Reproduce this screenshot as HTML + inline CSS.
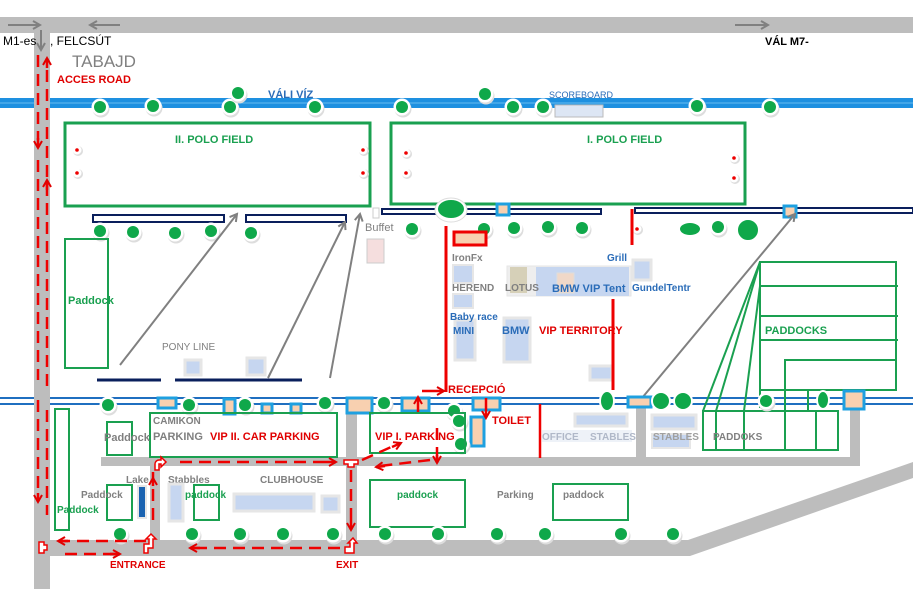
<!DOCTYPE html>
<html><head><meta charset="utf-8"><style>
html,body{margin:0;padding:0;background:#fff;}
svg{display:block;font-family:"Liberation Sans",sans-serif;}
.g{fill:#808080;font-weight:bold;}
.r{fill:#e00000;font-weight:bold;}
.gr{fill:#1aa050;font-weight:bold;}
.b{fill:#2a6cb8;font-weight:bold;}
</style></head><body>
<svg width="913" height="589" viewBox="0 0 913 589" xmlns="http://www.w3.org/2000/svg">
<defs>
<marker id="ga" markerUnits="userSpaceOnUse" markerWidth="10" markerHeight="10" refX="8" refY="5" orient="auto"><path d="M1,1 L8,5 L1,9" fill="none" stroke="#808080" stroke-width="2"/></marker>
<marker id="ra" markerUnits="userSpaceOnUse" markerWidth="10" markerHeight="10" refX="8" refY="5" orient="auto"><path d="M1,1 L8,5 L1,9" fill="none" stroke="#e00000" stroke-width="2"/></marker>
<g id="t"><circle cx="1" cy="2" r="8.5" fill="#ddd"/><circle cx="0" cy="0" r="8.5" fill="#fff"/><circle cx="0" cy="0" r="6" fill="#0fa84a"/></g>
<g id="d"><circle cx="1" cy="1" r="5" fill="#ddd"/><circle cx="0" cy="0" r="4.5" fill="#fff"/><circle cx="0" cy="0" r="1.8" fill="#e00"/></g>
</defs>
<!-- roads -->
<rect x="0" y="17" width="913" height="16" fill="#bdbdbd"/>
<rect x="34" y="33" width="16" height="556" fill="#bdbdbd"/>
<rect x="101" y="457" width="759" height="9" fill="#bdbdbd"/>
<rect x="150" y="457" width="10" height="90" fill="#bdbdbd"/>
<rect x="346" y="403" width="11" height="150" fill="#bdbdbd"/>
<rect x="636" y="403" width="10" height="60" fill="#bdbdbd"/>
<rect x="850" y="392" width="10" height="72" fill="#bdbdbd"/>
<rect x="50" y="540" width="640" height="16" fill="#bdbdbd"/>
<polygon points="688,540 913,462 913,478 690,556" fill="#bdbdbd"/>
<line x1="8" y1="25" x2="40" y2="25" stroke="#808080" stroke-width="2" marker-end="url(#ga)"/>
<line x1="120" y1="25" x2="90" y2="25" stroke="#808080" stroke-width="2" marker-end="url(#ga)"/>
<line x1="735" y1="25" x2="768" y2="25" stroke="#808080" stroke-width="2" marker-end="url(#ga)"/>
<line x1="41" y1="30" x2="41" y2="50" stroke="#808080" stroke-width="2" marker-end="url(#ga)"/>
<!-- rivers -->
<rect x="0" y="98" width="913" height="10" fill="#1e90e0"/>
<line x1="0" y1="103" x2="913" y2="103" stroke="#66bbf0" stroke-width="1"/>
<line x1="0" y1="398" x2="913" y2="398" stroke="#1f6fc0" stroke-width="2"/>
<line x1="0" y1="404" x2="913" y2="404" stroke="#1f6fc0" stroke-width="2"/>
<rect x="34" y="96" width="16" height="14" fill="#bdbdbd"/>
<rect x="34" y="396" width="16" height="10" fill="#bdbdbd"/>
<!-- texts top -->
<text x="3" y="45" font-size="12" fill="#000">M1-es</text>
<text x="50" y="45" font-size="12" fill="#000">, FELCSÚT</text>
<text x="72" y="67" font-size="17" fill="#808080">TABAJD</text>
<text x="57" y="83" font-size="11" class="r">ACCES ROAD</text>
<text x="268" y="98" font-size="11" class="b" font-weight="normal">VÁLI VÍZ</text>
<text x="549" y="98" font-size="9" fill="#2a6cb8">SCOREBOARD</text>
<text x="765" y="45" font-size="11" fill="#000" font-weight="bold">VÁL  M7-</text>
<rect x="555" y="105" width="48" height="12" fill="#dde6f4" stroke="#bbb"/>
<!-- polo fields -->
<rect x="65" y="123" width="305" height="83" fill="none" stroke="#1aa050" stroke-width="3"/>
<rect x="391" y="123" width="354" height="81" fill="none" stroke="#1aa050" stroke-width="3"/>
<text x="175" y="143" font-size="11" class="gr">II. POLO FIELD</text>
<text x="587" y="143" font-size="11" class="gr">I. POLO FIELD</text>
<use href="#d" x="77" y="150"/><use href="#d" x="77" y="173"/><use href="#d" x="363" y="150"/><use href="#d" x="363" y="173"/>
<use href="#d" x="406" y="153"/><use href="#d" x="406" y="173"/><use href="#d" x="734" y="158"/><use href="#d" x="734" y="178"/>
<!-- top trees -->
<use href="#t" x="100" y="107"/><use href="#t" x="153" y="106"/><use href="#t" x="230" y="107"/><use href="#t" x="238" y="93"/><use href="#t" x="315" y="107"/><use href="#t" x="402" y="107"/><use href="#t" x="485" y="94"/><use href="#t" x="513" y="107"/><use href="#t" x="543" y="107"/><use href="#t" x="697" y="106"/><use href="#t" x="770" y="107"/>
<!-- stands -->
<rect x="93" y="215" width="131" height="7" fill="#fff" stroke="#0a1f5c" stroke-width="2"/>
<rect x="246" y="215" width="100" height="7" fill="#fff" stroke="#0a1f5c" stroke-width="2"/>
<rect x="382" y="209" width="219" height="5" fill="#fff" stroke="#0a1f5c" stroke-width="2"/>
<rect x="635" y="208" width="278" height="5" fill="#fff" stroke="#0a1f5c" stroke-width="2"/>
<ellipse cx="451" cy="210" rx="16" ry="12" fill="#fff" stroke="#ddd"/><ellipse cx="451" cy="209" rx="13" ry="9" fill="#0fa84a"/>
<rect x="497" y="204" width="12" height="11" fill="#f8d0b0" stroke="#1ea0e0" stroke-width="3"/>
<rect x="784" y="206" width="12" height="11" fill="#f8d0b0" stroke="#1ea0e0" stroke-width="3"/>
<use href="#t" x="100" y="231"/><use href="#t" x="133" y="232"/><use href="#t" x="175" y="233"/><use href="#t" x="211" y="231"/><use href="#t" x="251" y="233"/><use href="#t" x="412" y="229"/><use href="#t" x="484" y="229"/><use href="#t" x="514" y="228"/><use href="#t" x="548" y="227"/><use href="#t" x="582" y="228"/>
<use href="#d" x="637" y="229"/>
<ellipse cx="690" cy="229" rx="11" ry="7" fill="#0fa84a" stroke="#fff" stroke-width="2"/>
<use href="#t" x="718" y="227"/>
<circle cx="748" cy="230" r="11" fill="#0fa84a" stroke="#fff" stroke-width="2"/>
<text x="365" y="231" font-size="11" fill="#808080">Buffet</text>
<rect x="367" y="239" width="17" height="24" fill="#f5dede" stroke="#ccc"/>
<rect x="373" y="208" width="6" height="10" fill="#fff" stroke="#ccc"/>
<!-- left paddock -->
<rect x="65" y="239" width="43" height="129" fill="none" stroke="#1aa050" stroke-width="2"/>
<text x="68" y="304" font-size="11" class="gr">Paddock</text>
<!-- gray arrows -->
<line x1="120" y1="365" x2="237" y2="214" stroke="#808080" stroke-width="2" marker-end="url(#ga)"/>
<line x1="268" y1="378" x2="345" y2="222" stroke="#808080" stroke-width="2" marker-end="url(#ga)"/>
<line x1="330" y1="378" x2="360" y2="214" stroke="#808080" stroke-width="2" marker-end="url(#ga)"/>
<line x1="642" y1="398" x2="795" y2="214" stroke="#808080" stroke-width="2" marker-end="url(#ga)"/>
<!-- pony line -->
<line x1="97" y1="380" x2="161" y2="380" stroke="#0a1f5c" stroke-width="3"/>
<line x1="175" y1="380" x2="302" y2="380" stroke="#0a1f5c" stroke-width="3"/>
<text x="162" y="350" font-size="10" fill="#808080">PONY LINE</text>
<rect x="185" y="360" width="16" height="15" fill="#c6d6f0" stroke="#e6e6e6" stroke-width="3"/>
<rect x="247" y="358" width="18" height="17" fill="#c6d6f0" stroke="#e6e6e6" stroke-width="3"/>
<!-- VIP area -->
<line x1="446" y1="226" x2="446" y2="392" stroke="#e00" stroke-width="3"/>
<line x1="422" y1="391" x2="444" y2="391" stroke="#e00" stroke-width="2.5" marker-end="url(#ra)"/>
<rect x="454" y="232" width="32" height="13" fill="#f8d0b0" stroke="#e00" stroke-width="3"/>
<text x="452" y="261" font-size="10" fill="#808080" font-weight="bold">IronFx</text>
<rect x="453" y="265" width="20" height="18" fill="#c6d6f0" stroke="#e6e6e6" stroke-width="2"/>
<text x="452" y="291" font-size="10" fill="#808080" font-weight="bold">HEREND</text>
<rect x="453" y="294" width="20" height="14" fill="#c6d6f0" stroke="#e6e6e6" stroke-width="2"/>
<rect x="455" y="320" width="20" height="40" fill="#c6d6f0" stroke="#e6e6e6" stroke-width="3"/>
<text x="450" y="320" font-size="10" class="b">Baby race</text>
<text x="453" y="334" font-size="10" class="b">MINI</text>
<rect x="504" y="318" width="26" height="44" fill="#c6d6f0" stroke="#e6e6e6" stroke-width="3"/>
<text x="502" y="334" font-size="11" class="b">BMW</text>
<text x="539" y="334" font-size="11" class="r">VIP TERRITORY</text>
<rect x="507" y="266" width="124" height="30" fill="#eee" stroke="#e6e6e6"/>
<rect x="510" y="267" width="17" height="26" fill="#d6d0b8"/>
<rect x="536" y="267" width="93" height="29" fill="#c6d6f0"/>
<rect x="557" y="273" width="17" height="20" fill="#f0d8c8" stroke="#ddd"/>
<text x="505" y="291" font-size="10" fill="#808080" font-weight="bold">LOTUS</text>
<text x="552" y="292" font-size="11" class="b">BMW VIP Tent</text>
<text x="607" y="261" font-size="10" class="b">Grill</text>
<rect x="633" y="260" width="18" height="20" fill="#c6d6f0" stroke="#e6e6e6" stroke-width="3"/>
<text x="632" y="291" font-size="10" class="b">GundelTentr</text>
<rect x="590" y="366" width="22" height="14" fill="#c6d6f0" stroke="#e6e6e6" stroke-width="3"/>
<line x1="632" y1="209" x2="632" y2="245" stroke="#e00" stroke-width="3"/>
<line x1="613" y1="299" x2="613" y2="390" stroke="#e00" stroke-width="3"/>
<line x1="540" y1="404" x2="540" y2="458" stroke="#e00" stroke-width="2.5"/>
<text x="448" y="393" font-size="11" class="r">RECEPCIÓ</text>
<text x="492" y="424" font-size="11" class="r">TOILET</text>
<!-- paddocks right -->
<g fill="none" stroke="#1aa050" stroke-width="2">
<rect x="760" y="262" width="136" height="128"/>
<line x1="760" y1="286" x2="898" y2="286"/><line x1="760" y1="316" x2="898" y2="316"/><line x1="760" y1="340" x2="898" y2="340"/>
<polyline points="785,410 785,360 896,360"/><line x1="808" y1="390" x2="808" y2="410"/>
<line x1="760" y1="390" x2="760" y2="408"/>
<rect x="703" y="411" width="135" height="39"/>
<line x1="716" y1="411" x2="716" y2="450"/><line x1="744" y1="411" x2="744" y2="450"/><line x1="785" y1="411" x2="785" y2="450"/><line x1="816" y1="411" x2="816" y2="450"/>
<line x1="760" y1="262" x2="703" y2="411"/><line x1="760" y1="262" x2="716" y2="411"/><line x1="760" y1="286" x2="744" y2="411"/>
</g>
<text x="765" y="334" font-size="11" class="gr">PADDOCKS</text>
<text x="713" y="440" font-size="10" fill="#808080" font-weight="bold">PADDOKS</text>
<!-- stables/office -->
<rect x="575" y="414" width="52" height="12" fill="#c6d6f0" stroke="#e6e6e6" stroke-width="3"/>
<rect x="542" y="430" width="90" height="12" fill="#eef2f8"/>
<text x="542" y="440" font-size="10" fill="#b0b8c8" font-weight="bold">OFFICE</text>
<text x="590" y="440" font-size="10" fill="#b0b8c8" font-weight="bold">STABLES</text>
<rect x="652" y="415" width="44" height="14" fill="#c6d6f0" stroke="#e6e6e6" stroke-width="3"/>
<rect x="652" y="434" width="38" height="14" fill="#c6d6f0" stroke="#e6e6e6" stroke-width="2"/>
<text x="653" y="440" font-size="10" fill="#a0a0a0" font-weight="bold">STABLES</text>
<!-- river cyan boxes -->
<g fill="#f8d0b0" stroke="#1ea0e0" stroke-width="3">
<rect x="158" y="398" width="18" height="10"/><rect x="224" y="399" width="11" height="15"/><rect x="262" y="404" width="10" height="9"/><rect x="291" y="404" width="10" height="9"/>
<rect x="347" y="398" width="25" height="15"/><rect x="402" y="398" width="27" height="13"/><rect x="473" y="398" width="27" height="12"/><rect x="628" y="397" width="23" height="10"/><rect x="844" y="391" width="20" height="18"/><rect x="471" y="417" width="13" height="29"/>
</g>
<line x1="418" y1="412" x2="418" y2="397" stroke="#e00" stroke-width="2.5" marker-end="url(#ra)"/>
<line x1="486" y1="398" x2="486" y2="418" stroke="#e00" stroke-width="2.5" marker-end="url(#ra)"/>
<!-- river trees -->
<use href="#t" x="108" y="405"/><use href="#t" x="189" y="405"/><use href="#t" x="245" y="405"/><use href="#t" x="325" y="403"/><use href="#t" x="384" y="403"/>
<use href="#t" x="454" y="411"/><use href="#t" x="459" y="421"/><use href="#t" x="461" y="444"/>
<ellipse cx="607" cy="401" rx="7" ry="10" fill="#0fa84a" stroke="#fff" stroke-width="2"/>
<circle cx="661" cy="401" r="9" fill="#0fa84a" stroke="#fff" stroke-width="2"/><circle cx="683" cy="401" r="9" fill="#0fa84a" stroke="#fff" stroke-width="2"/>
<use href="#t" x="766" y="401"/>
<ellipse cx="823" cy="400" rx="6" ry="9" fill="#0fa84a" stroke="#fff" stroke-width="2"/>
<!-- lower left -->
<g fill="none" stroke="#1aa050" stroke-width="2">
<rect x="55" y="409" width="14" height="121"/>
<rect x="107" y="422" width="25" height="33"/>
<rect x="150" y="413" width="187" height="44"/>
<rect x="370" y="413" width="95" height="40"/>
<rect x="107" y="485" width="25" height="35"/>
<rect x="194" y="485" width="25" height="35"/>
<rect x="370" y="480" width="95" height="47"/>
<rect x="553" y="484" width="75" height="36"/>
</g>
<text x="104" y="441" font-size="11" fill="#808080" font-weight="bold">Paddock</text>
<text x="153" y="424" font-size="10" fill="#808080" font-weight="bold">CAMIKON</text>
<text x="153" y="440" font-size="11" fill="#808080" font-weight="bold">PARKING</text>
<text x="210" y="440" font-size="11" class="r">VIP II. CAR PARKING</text>
<text x="375" y="440" font-size="11" class="r">VIP I. PARKING</text>
<text x="126" y="483" font-size="10" fill="#808080" font-weight="bold">Lake</text>
<rect x="138" y="486" width="8" height="32" fill="#1a62b0" stroke="#e6e6e6" stroke-width="2"/>
<text x="81" y="498" font-size="10" fill="#808080" font-weight="bold">Paddock</text>
<text x="57" y="513" font-size="10" class="gr">Paddock</text>
<text x="168" y="483" font-size="10" fill="#808080" font-weight="bold">Stabbles</text>
<rect x="169" y="484" width="14" height="37" fill="#c6d6f0" stroke="#e6e6e6" stroke-width="3"/>
<text x="185" y="498" font-size="10" class="gr">paddock</text>
<text x="260" y="483" font-size="10" fill="#808080" font-weight="bold">CLUBHOUSE</text>
<rect x="234" y="494" width="80" height="17" fill="#c6d6f0" stroke="#e6e6e6" stroke-width="3"/>
<rect x="322" y="496" width="17" height="16" fill="#c6d6f0" stroke="#e6e6e6" stroke-width="3"/>
<text x="397" y="498" font-size="10" class="gr">paddock</text>
<text x="497" y="498" font-size="10" fill="#808080" font-weight="bold">Parking</text>
<text x="563" y="498" font-size="10" fill="#808080" font-weight="bold">paddock</text>
<!-- bottom trees -->
<use href="#t" x="120" y="534"/><use href="#t" x="192" y="534"/><use href="#t" x="240" y="534"/><use href="#t" x="283" y="534"/><use href="#t" x="333" y="534"/><use href="#t" x="385" y="534"/><use href="#t" x="438" y="534"/><use href="#t" x="497" y="534"/><use href="#t" x="545" y="534"/><use href="#t" x="621" y="534"/><use href="#t" x="673" y="534"/>
<!-- red dashed routes -->
<g stroke="#e00" stroke-width="2.5" fill="none" stroke-dasharray="12,7">
<line x1="47" y1="70" x2="47" y2="390"/>
<line x1="47" y1="410" x2="47" y2="515"/>
<line x1="38" y1="55" x2="38" y2="140"/>
<line x1="38" y1="400" x2="38" y2="495"/>
<line x1="38" y1="160" x2="38" y2="380"/>
<line x1="146" y1="541" x2="60" y2="541"/>
<line x1="65" y1="554" x2="115" y2="554"/>
<line x1="153" y1="520" x2="153" y2="472"/>
<line x1="180" y1="462" x2="332" y2="462"/>
<line x1="351" y1="470" x2="351" y2="525"/>
<line x1="340" y1="548" x2="195" y2="548"/>
<line x1="437" y1="428" x2="437" y2="460"/>
<line x1="430" y1="460" x2="380" y2="466"/>
<line x1="362" y1="460" x2="398" y2="444"/>
</g>
<g stroke="#e00" stroke-width="2.5" fill="none">
<line x1="38" y1="138" x2="38" y2="148" marker-end="url(#ra)"/>
<line x1="47" y1="68" x2="47" y2="58" marker-end="url(#ra)"/>
<line x1="47" y1="190" x2="47" y2="180" marker-end="url(#ra)"/>
<line x1="38" y1="493" x2="38" y2="502" marker-end="url(#ra)"/>
<line x1="68" y1="541" x2="58" y2="541" marker-end="url(#ra)"/>
<line x1="110" y1="554" x2="120" y2="554" marker-end="url(#ra)"/>
<line x1="153" y1="486" x2="153" y2="478" marker-end="url(#ra)"/>
<line x1="325" y1="462" x2="336" y2="462" marker-end="url(#ra)"/>
<line x1="351" y1="520" x2="351" y2="530" marker-end="url(#ra)"/>
<line x1="200" y1="548" x2="190" y2="548" marker-end="url(#ra)"/>
<line x1="437" y1="455" x2="437" y2="463" marker-end="url(#ra)"/>
<line x1="385" y1="466" x2="376" y2="467" marker-end="url(#ra)"/>
<line x1="392" y1="447" x2="401" y2="443" marker-end="url(#ra)"/>
</g>
<g fill="#fff" stroke="#e00" stroke-width="1.5">
<path d="M39,542 h5 v3 h3 v5 h-3 v3 h-5 z"/>
<path d="M144,553 v-9 h5 v-5 h-3 l5,-5 l5,5 h-3 v9 h-5 v5 z"/>
<path d="M155,470 v-6 a4,4 0 0 1 4,-4 h2 v-3 l5,5 l-5,5 v-3 h-2 v6 z"/>
<path d="M344,460 h14 v4 h-4 v3 h-6 v-3 h-4 z"/>
<path d="M345,553 v-6 h5 v-4 l-2,0 l5,-5 l4,5 h-3 v10 z"/>
</g>
<text x="110" y="568" font-size="10" class="r">ENTRANCE</text>
<text x="336" y="568" font-size="10" class="r">EXIT</text>
</svg>
</body></html>
